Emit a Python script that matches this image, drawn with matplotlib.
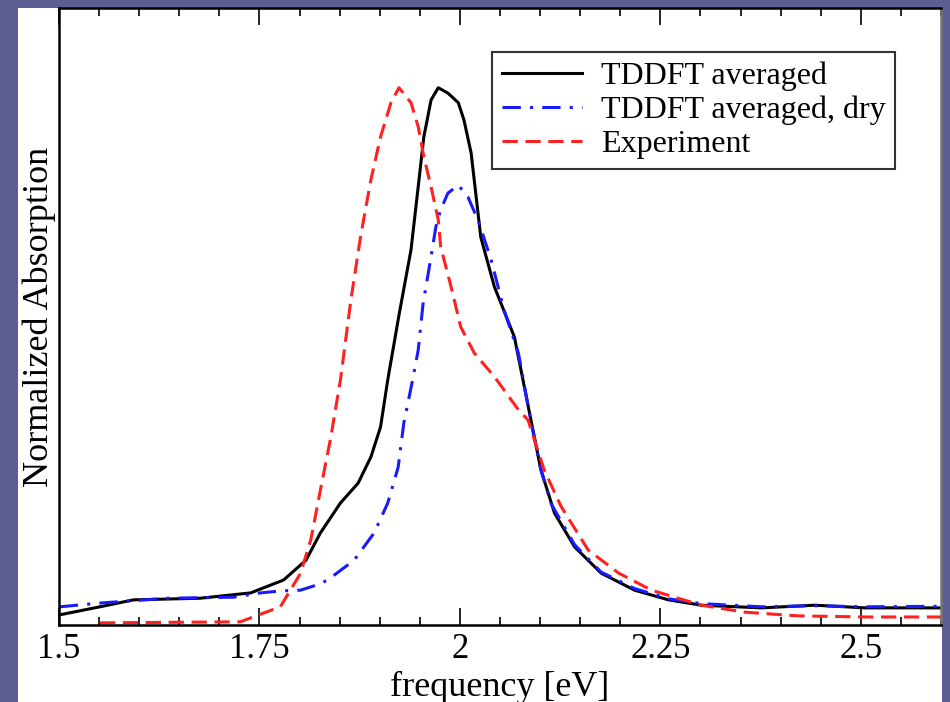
import numpy as np
import matplotlib
matplotlib.use("Agg")
import matplotlib.pyplot as plt
from matplotlib.patches import Rectangle
from matplotlib.ticker import MultipleLocator, FixedLocator, FuncFormatter

plt.rcParams['font.family'] = ['Liberation Serif', 'DejaVu Serif']

# TDDFT averaged (black, solid)
freq_avg = [1.501, 1.551, 1.593, 1.676, 1.739, 1.780, 1.808, 1.826, 1.851, 1.873,
            1.889, 1.901, 1.910, 1.924, 1.939, 1.948, 1.955, 1.964, 1.973, 1.985,
            1.998, 2.005, 2.014, 2.026, 2.043, 2.068, 2.085, 2.101,
            2.118, 2.143, 2.176, 2.218, 2.260, 2.301, 2.376, 2.443, 2.505, 2.601]
abs_avg = [0.019, 0.034, 0.047, 0.050, 0.060, 0.084, 0.121, 0.172, 0.228, 0.265,
           0.314, 0.370, 0.458, 0.579, 0.701, 0.819, 0.912, 0.981, 1.004, 0.994,
           0.976, 0.944, 0.882, 0.725, 0.632, 0.538, 0.410, 0.290,
           0.209, 0.146, 0.097, 0.065, 0.047, 0.037, 0.032, 0.037, 0.032, 0.032]

# TDDFT averaged, dry (blue, dash-dot)
freq_dry = [1.501, 1.551, 1.635, 1.718, 1.751, 1.780, 1.801, 1.822, 1.835, 1.868,
            1.893, 1.910, 1.923, 1.930, 1.941, 1.948, 1.954, 1.964, 1.970, 1.976,
            1.985, 1.998, 2.010, 2.023, 2.039, 2.055, 2.073, 2.088, 2.101, 2.114,
            2.143, 2.176, 2.218, 2.260, 2.301, 2.376, 2.443, 2.505, 2.601]
abs_dry = [0.034, 0.041, 0.050, 0.052, 0.060, 0.064, 0.065, 0.075, 0.084, 0.121,
           0.172, 0.228, 0.295, 0.377, 0.458, 0.514, 0.600, 0.688, 0.744, 0.776,
           0.807, 0.822, 0.800, 0.755, 0.682, 0.589, 0.508, 0.385, 0.290, 0.226,
           0.150, 0.099, 0.068, 0.049, 0.040, 0.034, 0.036, 0.034, 0.035]

# Experiment (red, dashed)
freq_exp = [1.551, 1.726, 1.751, 1.776, 1.801, 1.814, 1.826, 1.839, 1.851, 1.864,
            1.876, 1.889, 1.901, 1.914, 1.924, 1.939, 1.948, 1.955, 1.964, 1.973,
            1.976, 1.989, 2.001, 2.018, 2.043, 2.073, 2.085, 2.105, 2.126, 2.160,
            2.198, 2.239, 2.301, 2.355, 2.423, 2.505, 2.601]
abs_exp = [0.004, 0.006, 0.020, 0.034, 0.096, 0.159, 0.252, 0.351, 0.458, 0.607,
           0.725, 0.832, 0.912, 0.976, 1.004, 0.976, 0.931, 0.875, 0.819, 0.757,
           0.707, 0.632, 0.557, 0.508, 0.464, 0.402, 0.383, 0.290, 0.222, 0.140,
           0.097, 0.065, 0.037, 0.024, 0.017, 0.015, 0.015]

tick_vals = [1.5, 1.75, 2.0, 2.25, 2.5]

fig = plt.figure(figsize=(9.5, 7.02), dpi=100)
fig.patch.set_facecolor('#5c5d92')
# white slide panel behind the plot
fig.patches.append(Rectangle((18 / 950, 0), (942 - 18) / 950, 1 - 8 / 702,
                             transform=fig.transFigure, facecolor='white',
                             edgecolor='none', zorder=-10))

ax = fig.add_axes([59 / 950, 1 - 625 / 702, (941 - 59) / 950, (625 - 8) / 702])
ax.plot(freq_avg, abs_avg, color='black', lw=2.2, label='TDDFT averaged')
ax.plot(freq_dry, abs_dry, color='#1a1aff', lw=2.2, dashes=(6, 3, 1, 3),
        label='TDDFT averaged, dry')
ax.plot(freq_exp, abs_exp, color='#ff2020', lw=2.2, dashes=(5, 2.5),
        label='Experiment')

ax.set_xlim(1.5, 2.6)
ax.set_ylim(0, 1.153)
ax.xaxis.set_major_locator(FixedLocator(tick_vals))
ax.xaxis.set_minor_locator(MultipleLocator(0.05))
ax.xaxis.set_major_formatter(FuncFormatter(lambda v, p: '%g' % v))
ax.set_yticks([])
ax.tick_params(axis='x', which='both', direction='in', top=True, labelsize=25, pad=6)
ax.tick_params(axis='x', which='major', length=12, width=1.2)
ax.tick_params(axis='x', which='minor', length=6, width=1.2)
for s in ax.spines.values():
    s.set_linewidth(1.8)
ax.spines['right'].set_color('#777777')

ax.set_xlabel('frequency [eV]', fontsize=26, labelpad=3)
ax.set_ylabel('Normalized Absorption', fontsize=26, labelpad=2)

leg = ax.legend(loc='upper right', bbox_to_anchor=(0.948, 0.929), fontsize=23,
                fancybox=False, framealpha=1, edgecolor='#333333',
                handlelength=2.5, labelspacing=0.15, borderaxespad=0,
                borderpad=0.3, handletextpad=0.6)
leg.get_frame().set_linewidth(1.5)

fig.savefig('out.png', dpi=100, facecolor=fig.get_facecolor())
